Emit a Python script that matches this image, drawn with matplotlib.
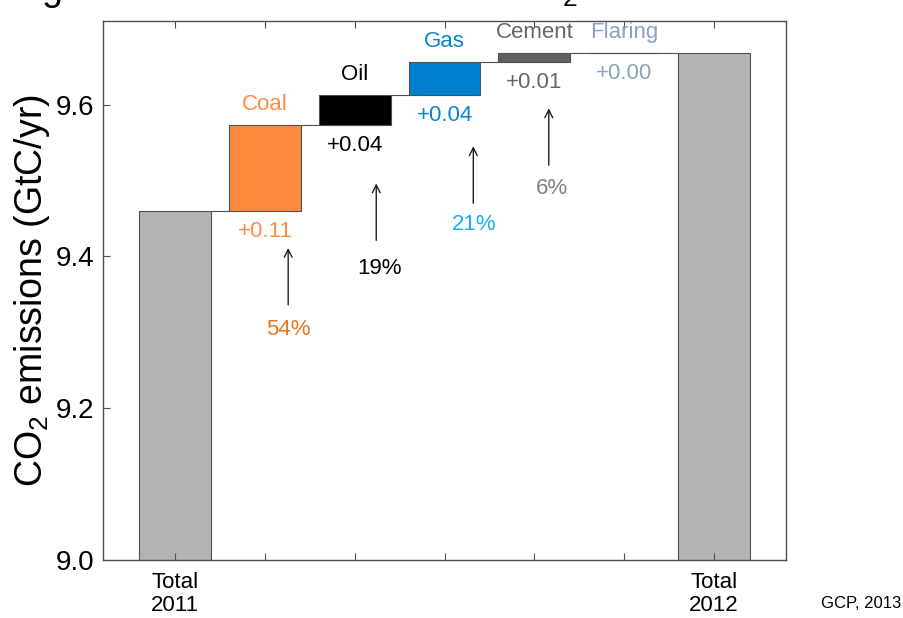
import matplotlib
matplotlib.use("Agg")
import matplotlib.pyplot as plt
import numpy as np

plt.rcParams['font.family'] = ['Liberation Sans', 'DejaVu Sans']
plt.rcParams['mathtext.fontset'] = 'custom'
plt.rcParams['mathtext.rm'] = 'Liberation Sans'
plt.rcParams['mathtext.it'] = 'Liberation Sans'

# data
total_2011 = 9.46
sources = ["Coal", "Oil", "Gas", "Cement", "Flaring"]
changes = [0.113, 0.039, 0.044, 0.012, 0.0]
shares = [54, 19, 21, 6]
tick_labels = ["Total\n2011", "", "", "", "", "", "Total\n2012"]

# colours
bar_colors = ["#FF8A3D", "#000000", "#0080CC", "#606060", "#8BA3BF"]
name_colors = ["#FF8C40", "#000000", "#0A84D0", "#666666", "#8BA3BF"]
share_colors = ["#E8761E", "#000000", "#1AB0F0", "#808080"]
total_color = "#B3B3B3"
edge = "#505050"

fig = plt.figure(figsize=(9.04, 6.18), dpi=100)
ax = fig.add_axes([0.114, 0.094, 0.7555, 0.872])

x = np.arange(1, 8)
total_2012 = total_2011 + sum(changes)
tops = total_2011 + np.cumsum(changes)
bottoms = tops - np.array(changes)

ax.bar(x[0], total_2011, width=0.8, color=total_color, edgecolor=edge, lw=0.8)
ax.bar(x[-1], total_2012, width=0.8, color=total_color, edgecolor=edge, lw=0.8)
ax.bar(x[1:6], changes, bottom=bottoms, width=0.8, color=bar_colors,
       edgecolor=edge, lw=0.8, zorder=3)

# connector lines
levels = [total_2011] + list(tops)
for i, lev in enumerate(levels[:-1]):
    ax.hlines(lev, x[i] + 0.4, x[i + 1] - 0.4, color=edge, lw=0.8)
ax.hlines(levels[-1], x[5] - 0.4, x[6] - 0.4, color=edge, lw=0.8)

# labels
for i, (name, ch) in enumerate(zip(sources, changes)):
    xi = x[i + 1]
    ax.text(xi, tops[i] + 0.027, name, ha="center", va="center",
            fontsize=16, color=name_colors[i])
    ax.text(xi, bottoms[i] - 0.027, f"+{ch:.2f}", ha="center", va="center",
            fontsize=16, color=name_colors[i])

arrow_head = [9.411, 9.496, 9.545, 9.595]
arrow_dx = [0.26, 0.24, 0.32, 0.16]
text_dx = [0.26, 0.28, 0.33, 0.20]
text_gap = [0.033, 0.037, 0.028, 0.031]
for i, s in enumerate(shares):
    xa = x[i + 1] + arrow_dx[i]
    tail = arrow_head[i] - 0.075
    ax.annotate("", xy=(xa, arrow_head[i]), xytext=(xa, tail),
                arrowprops=dict(arrowstyle="->", color="#202020", lw=1.0,
                                shrinkA=0, shrinkB=0, mutation_scale=14))
    ax.text(x[i + 1] + text_dx[i], tail - text_gap[i], f"{s}%", ha="center",
            va="center", fontsize=16, color=share_colors[i])

ax.set_xlim(0.2, 7.8)
ax.set_ylim(9.0, 9.71)
ax.set_xticks(x)
ax.set_xticklabels(tick_labels, fontsize=16, linespacing=1.1)
ax.set_yticks([9.0, 9.2, 9.4, 9.6])
ax.set_yticklabels(["9.0", "9.2", "9.4", "9.6"], fontsize=20)
ax.tick_params(axis="x", direction="in", top=True, length=5, color=edge, pad=9)
ax.tick_params(axis="y", direction="in", length=5, color=edge, pad=6)
for sp in ax.spines.values():
    sp.set_color(edge)
    sp.set_linewidth(1.0)

ax.set_ylabel("CO$_2$ emissions (GtC/yr)", fontsize=27, labelpad=3)

fig.text(578 / 904, 1.0, "Annual change in fossil fuel and cement CO$_2$",
         ha="right", va="baseline", fontsize=27)
fig.text(0.997, 0.012, "GCP, 2013", ha="right", va="bottom", fontsize=12)

fig.savefig("out.png", dpi=100)
